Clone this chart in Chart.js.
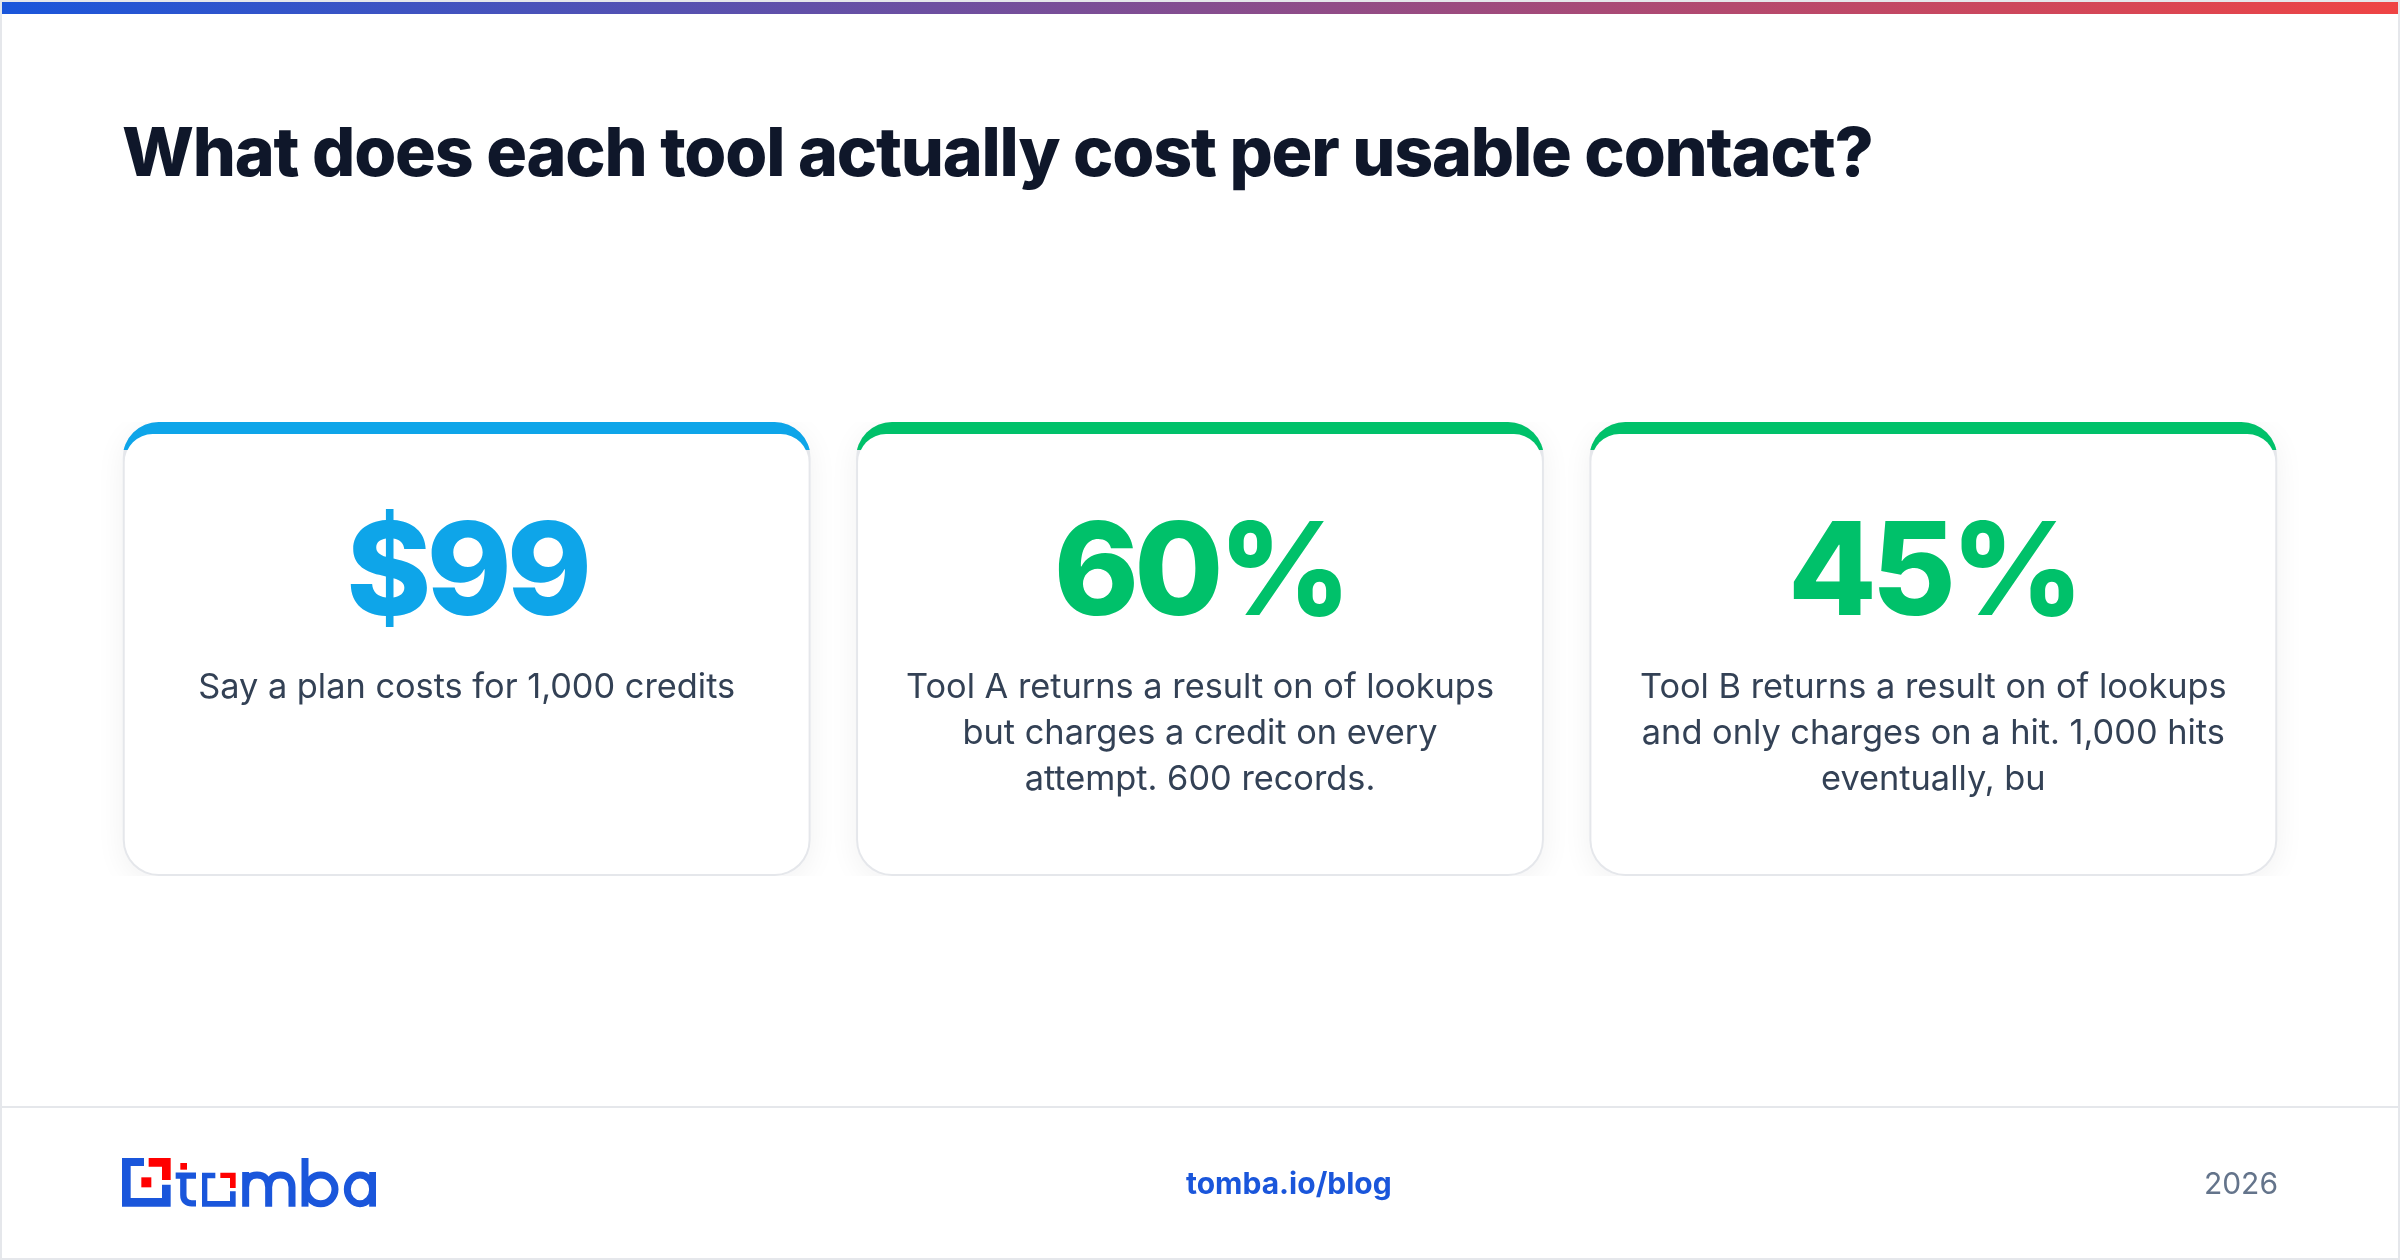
<!DOCTYPE html>
<html lang="en">
<head>
    <meta charset="UTF-8">
    <title>Cost per usable contact</title>
    <script src="https://cdn.jsdelivr.net/npm/chart.js"></script>
    <style>
        html, body { margin: 0; padding: 0; background: #fff; }
        .page { position: relative; width: 2400px; height: 1260px; overflow: hidden; font-family: Inter, sans-serif; background: #fff; }
        .frame { position: absolute; inset: 0; border: 2px solid #e5e7eb; pointer-events: none; }
        .topbar { position: absolute; left: 2px; right: 2px; top: 2px; height: 12px; background: linear-gradient(90deg, #1a56db, #ef4444); }
        h1 { position: absolute; left: 122px; top: 108px; margin: 0; font-size: 68px; font-weight: 800; line-height: 86px; letter-spacing: -1.2px; color: #0f172a; white-space: nowrap; }
        canvas { position: absolute; left: 0; top: 0; }
        .rule { position: absolute; left: 2px; right: 2px; top: 1106px; height: 2px; background: #e5e7eb; }
        .logo { position: absolute; left: 122px; top: 1158px; }
        .link { position: absolute; left: 1186px; top: 1164px; font-size: 30px; line-height: 38px; font-weight: 700; color: #1a56db; }
        .year { position: absolute; right: 122px; top: 1164px; font-size: 30px; line-height: 38px; color: #64748b; }
    </style>
</head>
<body>
<div class="page">
    <canvas id="myChart" width="2400" height="1260"></canvas>
    <div class="topbar"></div>
    <h1 id="title"></h1>
    <div class="rule"></div>
    <svg class="logo" width="254" height="50" viewBox="366 234 762 150">
        <path fill="#1a56db" d="M366 234H432V258H392V354H486V314H512V380H366Z"/>
        <path fill="#ff0000" d="M446 234H512V300H486V260H446Z"/>
        <rect fill="#ff0000" x="424" y="292" width="30" height="30"/>
        <rect fill="#ff0000" x="541" y="249" width="20" height="20"/>
        <path fill="none" stroke="#1a56db" stroke-width="19" d="M527 287H588M550 287V345C550 362 560 370 575 370H588"/>
        <path fill="#1a56db" d="M606 278H646V295H622V363H690V334H707V380H606Z"/>
        <path fill="#ff0000" d="M661 278H707V324H690V294H661Z"/>
        <g fill="none" stroke="#1a56db" stroke-width="21">
            <path d="M737 380V276M737 322C737 297 750 285 771 285C792 285 806 298 806 322V380M806 322C806 298 820 285 841 285C862 285 876 298 876 322V380"/>
            <path d="M915 380V234"/>
            <circle cx="962" cy="328" r="43"/>
            <ellipse cx="1080" cy="328" rx="38" ry="43"/>
            <path d="M1118 276V380"/>
        </g>
    </svg>
    <div class="link" id="link"></div>
    <div class="year" id="year"></div>
    <div class="frame"></div>
</div>

<script>
    var titulo = 'What does each tool actually cost per usable contact?';
    var enlace = 'tomba.io/blog';
    var anio = '2026';

    var categorias = ['Plan price', 'Tool A', 'Tool B'];
    var cifras = ['$99', '60%', '45%'];
    var relleno = [1, 1, 1];
    var lineas = [
        ['Say a plan costs for 1,000 credits'],
        ['Tool A returns a result on of lookups', 'but charges a credit on every', 'attempt. 600 records.'],
        ['Tool B returns a result on of lookups', 'and only charges on a hit. 1,000 hits', 'eventually, bu']
    ];
    var colores = ['#0ea5e9', '#00c16a', '#00c16a'];

    document.getElementById('title').textContent = titulo;
    document.getElementById('link').textContent = enlace;
    document.getElementById('year').textContent = anio;

    // accent only shows in the top of each card, the white bar covers the rest
    var franja = 28;

    var tarjetas = {
        id: 'tarjetas',
        beforeDatasetDraw: function(chart, args) {
            var ctx = chart.ctx;
            ctx.save();
            if (args.index === 0) {
                ctx.shadowColor = 'rgba(15, 23, 42, 0.06)';
                ctx.shadowBlur = 30;
                ctx.shadowOffsetY = 6;
            }
            if (args.index === 1) {
                var a = chart.chartArea;
                ctx.beginPath();
                ctx.rect(0, a.top - 2, chart.width, franja + 2);
                ctx.clip();
            }
        },
        afterDatasetDraw: function(chart) {
            chart.ctx.restore();
        },
        afterDatasetsDraw: function(chart) {
            var ctx = chart.ctx;
            var top = chart.chartArea.top;
            ctx.save();
            ctx.textAlign = 'center';
            ctx.textBaseline = 'alphabetic';
            categorias.forEach(function(c, i) {
                var x = chart.scales.x.getPixelForValue(i);
                ctx.fillStyle = colores[i];
                ctx.font = '800 129px Inter';
                ctx.letterSpacing = '-5px';
                ctx.fillText(cifras[i], x, top + 193);
                ctx.fillStyle = '#334155';
                ctx.font = '400 34.35px Inter';
                ctx.letterSpacing = '0px';
                lineas[i].forEach(function(l, j) {
                    ctx.fillText(l, x, top + 276 + j * 46);
                });
            });
            ctx.restore();
        }
    };

    function capa(color, orden, borde, radio) {
        return {
            data: relleno,
            backgroundColor: color,
            borderColor: 'transparent',
            borderWidth: borde,
            borderRadius: radio,
            borderSkipped: false,
            inflateAmount: 0,
            grouped: false,
            order: orden,
            categoryPercentage: 0.938,
            barPercentage: 1
        };
    }

    new Chart(document.getElementById('myChart').getContext('2d'), {
        type: 'bar',
        data: {
            labels: categorias,
            datasets: [
                capa('#e5e7eb', 3, 0, 36),
                capa(colores, 2, 0, 36),
                capa('#ffffff', 1, { top: 12, left: 2, right: 2, bottom: 2 },
                    { topLeft: 40, topRight: 40, bottomLeft: 36, bottomRight: 36 })
            ]
        },
        options: {
            responsive: false,
            devicePixelRatio: 1,
            animation: false,
            layout: { padding: { left: 100, right: 100, top: 422, bottom: 384 } },
            plugins: { legend: { display: false }, title: { display: false }, tooltip: { enabled: false } },
            scales: {
                x: { display: false },
                y: { display: false, min: 0, max: 1 }
            }
        },
        plugins: [tarjetas]
    });
</script>
</body>
</html>
